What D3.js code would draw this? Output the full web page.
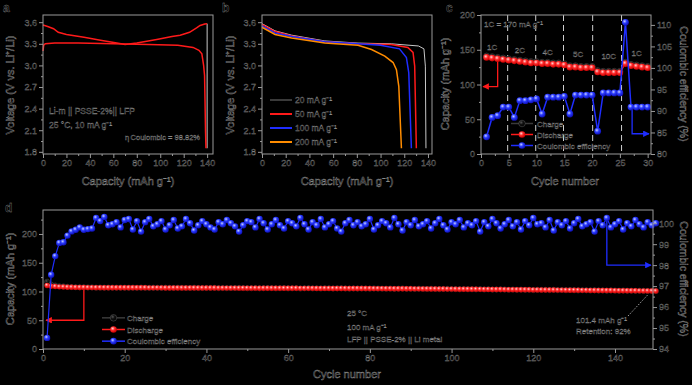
<!DOCTYPE html>
<html><head><meta charset="utf-8">
<script src="https://cdn.jsdelivr.net/npm/d3@7"></script>
<style>
html,body{margin:0;padding:0;background:#000;}
svg{display:block;}
text{font-family:"Liberation Sans",Arial,sans-serif;}
</style></head><body>
<svg id="chart" width="692" height="385"></svg>
<script>
// ================= DATA =================
// Panel a : charge / discharge profile
const aChargeCap = [0,4,9,13,20,35,49,63,70,80,97,110,117,125,131,134,138,140];
const aChargeV   = [3.56,3.54,3.51,3.46,3.43,3.39,3.35,3.31,3.29,3.31,3.36,3.40,3.42,3.46,3.52,3.555,3.575,3.58];
const aDischCap  = [0,0.6,2,10,30,60,90,115,128,133,135.5,137,137.8,138.2,138.6,139];
const aDischV    = [3.20,3.28,3.30,3.31,3.31,3.30,3.29,3.28,3.25,3.21,3.16,3.00,2.86,2.5,2.1,1.85];
const aCutCap    = [140,140];
const aCutV      = [3.58,1.85];
const aTexts     = ["Li-m || PSSE-2%|| LFP","25 °C, 10 mA g⁻¹","η\u2009Coulombic = 98.82%"];

// Panel b : rate discharge curves
const bLabels = ["20 mA g⁻¹","50 mA g⁻¹","100 mA g⁻¹","200 mA g⁻¹"];
const b20Cap  = [0,11,25,53,81,109,132,136.6,137.8,138.3];
const b20V    = [3.58,3.48,3.42,3.34,3.31,3.30,3.27,3.23,2.99,1.85];
const b50Cap  = [0,11,25,53,81,109,123,127.4,128.8,130.2];
const b50V    = [3.57,3.47,3.41,3.33,3.30,3.29,3.25,3.18,2.99,1.85];
const b100Cap = [0,11,25,53,81,100,116,121.8,123.8,126];
const b100V   = [3.55,3.45,3.40,3.33,3.30,3.28,3.23,3.11,2.90,1.85];
const b200Cap = [0,11,25,53,81,92.4,103.6,110.6,113.4,115.4,117.6];
const b200V   = [3.53,3.43,3.38,3.31,3.28,3.22,3.13,3.04,2.94,2.71,1.85];

// Panel c : rate capability
const cCycles    = [1,2,3,4,5,6,7,8,9,10,11,12,13,14,15,16,17,18,19,20,21,22,23,24,25,26,27,28,29,30];
const cDischarge = [139,138,137,136,135, 134,133,132,131,131, 130,130,129,129,128, 125,125,124,124,124, 118,117,117,117,117, 130,127,126,125,124];
const cCharge    = [141,140,139,138,137, 136,135,134,133,133, 132,132,131,131,130, 127,127,126,126,126, 120,119,119,119,119, 132,129,128,127,126];
const cCE        = [84.0,88.5,88.9,90.9,90.9, 88.5,92.4,92.4,92.6,92.8, 89.3,93.2,93.2,93.2,93.4, 89.3,93.7,93.7,93.7,93.7, 85.3,94.2,94.2,94.2,94.2, 110.6,90.9,90.9,90.9,90.9];
const cRateLabels = ["1C","2C","4C","5C","10C","1C"];
const cRateAt     = [2,7,12,17.5,23,28];
const cRateCap    = [150,146,143,139,137,141];
const cSeparators = [4.8,9.85,14.85,20.1,25.3];
const cLegend     = ["Charge","Discharge","Coulombic efficiency"];

// Panel d : long cycling
const dDischarge = [
110.5,109.2,108.6,108.1,107.8,107.5,107.3,107.1,107.0,106.9,
106.8,106.8,106.7,106.7,106.6,106.6,106.6,106.5,106.5,106.5,
106.5,106.4,106.4,106.4,106.4,106.3,106.3,106.3,106.3,106.2,
106.2,106.2,106.2,106.1,106.1,106.1,106.1,106.0,106.0,106.0,
106.0,106.0,105.9,105.9,105.9,105.9,105.9,105.8,105.8,105.8,
105.8,105.8,105.7,105.7,105.7,105.7,105.7,105.6,105.6,105.6,
105.6,105.6,105.5,105.5,105.5,105.5,105.4,105.4,105.4,105.4,
105.3,105.3,105.3,105.3,105.2,105.2,105.2,105.1,105.1,105.1,
105.0,105.0,105.0,104.9,104.9,104.8,104.8,104.8,104.7,104.7,
104.6,104.6,104.5,104.5,104.4,104.4,104.3,104.3,104.2,104.2,
104.1,104.0,104.0,103.9,103.8,103.8,103.7,103.6,103.6,103.5,
103.4,103.4,103.3,103.2,103.2,103.1,103.0,103.0,102.9,102.8,
102.8,102.7,102.6,102.6,102.5,102.4,102.4,102.3,102.2,102.2,
102.1,102.0,102.0,101.9,101.8,101.8,101.7,101.6,101.6,101.5,
101.4,101.4,101.3,101.2,101.2,101.1,101.0,101.0,100.9,100.8];
const dCharge = [
116.9,112.0,110.3,109.1,108.8,108.1,107.7,107.4,107.2,107.2,
107.1,107.1,106.7,106.8,106.6,106.7,106.7,106.6,106.7,106.6,
106.5,106.7,106.5,106.8,106.5,106.3,106.5,106.4,106.3,106.5,
106.3,106.2,106.5,106.3,106.1,106.1,106.5,106.1,106.0,106.1,
106.2,106.3,105.9,106.0,105.8,105.9,106.1,106.2,105.9,105.7,
105.7,106.0,105.5,105.7,106.0,105.8,105.5,105.7,105.9,105.5,
105.6,105.8,105.2,105.6,105.8,105.4,105.5,105.2,105.6,105.5,
105.2,105.6,105.7,105.3,105.0,105.3,105.1,105.3,105.2,104.9,
105.3,105.1,104.9,104.9,105.1,104.5,104.9,105.2,104.6,104.8,
104.4,104.8,104.6,104.4,104.7,104.4,104.1,104.4,104.5,104.1,
104.2,103.8,104.2,103.9,103.9,103.7,104.1,103.5,103.8,103.3,
103.4,103.7,103.4,103.0,103.4,103.0,103.3,102.9,103.0,102.5,
102.9,102.7,102.8,102.4,102.9,102.3,102.5,102.2,102.5,102.2,
101.9,102.2,102.1,101.8,102.2,101.7,101.8,101.3,101.8,101.6,
101.3,101.7,101.3,101.4,101.0,101.2,101.2,100.9,101.0,100.8];
const dCE = [
94.53,97.54,98.43,99.06,99.09,99.41,99.61,99.69,99.80,99.69,
99.72,99.75,100.25,100.10,100.30,99.90,99.95,100.05,99.80,100.15,
100.20,99.70,100.10,99.60,100.05,100.20,99.85,99.95,100.10,99.70,
99.90,100.15,99.75,99.85,100.20,100.00,99.65,99.90,100.10,99.95,
99.80,99.70,100.05,99.95,100.15,100.00,99.85,99.60,99.90,100.10,
100.05,99.80,100.20,100.00,99.70,99.95,100.15,99.90,99.75,100.10,
100.00,99.85,100.25,99.95,99.70,100.05,99.90,100.20,99.80,99.95,
100.10,99.75,99.60,100.00,100.15,99.90,100.05,99.85,99.95,100.20,
99.70,99.90,100.10,100.00,99.80,100.25,99.95,99.65,100.05,99.90,
100.15,99.85,99.95,100.10,99.75,100.00,100.20,99.90,99.70,100.05,
99.95,100.15,99.80,100.00,99.90,100.10,99.60,100.05,99.85,100.20,
100.00,99.75,99.95,100.15,99.85,100.05,99.70,100.10,99.90,100.25,
99.95,100.00,99.80,100.15,99.65,100.05,99.90,100.10,99.75,100.00,
100.20,99.85,99.95,100.05,99.60,100.10,99.90,100.25,99.80,99.95,
100.10,99.70,100.00,99.85,100.15,99.95,99.80,100.05,99.90,100.00];
const dCycles = d3.range(1, dCE.length + 1);
const dTexts  = ["25 °C","100 mA g⁻¹","LFP || PSSE-2% || Li metal"];
const dNote   = ["101.4 mAh g⁻¹","Retention: 92%"];

// ================= DRAW =================
const svg = d3.select("#chart");
const AX = "#9a9a9a";           // frame / tick colour (as rendered)
const TXT_STROKE = "#8a8a8a";
const RED = "#ff1a1a", BLUE = "#1f2dff", ORANGE = "#ff8c00", BLK = "#c8c8c8";

const defs = svg.append("defs");
function grad(id, c0, c1, c2){
  const g = defs.append("radialGradient").attr("id", id).attr("cx","38%").attr("cy","35%").attr("r","65%");
  g.append("stop").attr("offset","0%").attr("stop-color",c0);
  g.append("stop").attr("offset","45%").attr("stop-color",c1);
  g.append("stop").attr("offset","100%").attr("stop-color",c2);
}
grad("gRed","#ffd6d6","#ff2a2a","#c80000");
grad("gBlue","#c9d0ff","#2a3cff","#0f10b8");
grad("gBlk","#555","#111","#000");
function arrowDef(id, color){
  defs.append("marker").attr("id", id).attr("viewBox","0 0 10 10").attr("refX",9).attr("refY",5)
    .attr("markerWidth",6).attr("markerHeight",5).attr("orient","auto-start-reverse")
    .append("path").attr("d","M0,0L10,5L0,10Z").attr("fill",color);
}
arrowDef("arR", RED); arrowDef("arB", BLUE);

function label(g, x, y, s, o = {}){
  const t = g.append("text").attr("x", x).attr("y", y).text(s)
    .attr("font-size", o.size || 9).attr("fill", "#000")
    .attr("stroke", TXT_STROKE).attr("stroke-width", o.sw || 0.35)
    .attr("text-anchor", o.anchor || "start");
  if (o.weight) t.attr("font-weight", o.weight);
  if (o.rotate) t.attr("transform", `rotate(${o.rotate},${x},${y})`);
  return t;
}

function styleAxis(sel){
  sel.select(".domain").remove();
  sel.selectAll("line").attr("stroke", AX).attr("stroke-width", 1);
  sel.selectAll("text").attr("font-size", 9).attr("fill", "#000")
     .attr("stroke", TXT_STROKE).attr("stroke-width", 0.35)
     .attr("font-family", "'Liberation Sans',Arial,sans-serif");
}
function axis(g, scale, side, pos, majors, minors, fmt){
  const mk = side === "bottom" ? d3.axisBottom : side === "left" ? d3.axisLeft : d3.axisRight;
  const tr = side === "bottom" ? `translate(0,${pos})` : `translate(${pos},0)`;
  g.append("g").attr("transform", tr)
    .call(mk(scale).tickValues(minors).tickSize(2).tickFormat(""))
    .call(styleAxis);
  g.append("g").attr("transform", tr)
    .call(mk(scale).tickValues(majors).tickSize(4).tickPadding(2).tickFormat(fmt))
    .call(styleAxis);
}
function frame(g, x0, x1, y0, y1){
  g.append("rect").attr("x", x0).attr("y", y0).attr("width", x1 - x0).attr("height", y1 - y0)
    .attr("fill", "none").attr("stroke", AX).attr("stroke-width", 1);
}
function pairs(xs, ys){ return xs.map((x, i) => [x, ys[i]]); }

const vMaj = [1.8,2.1,2.4,2.7,3.0,3.3,3.6];
const vMin = [1.95,2.25,2.55,2.85,3.15,3.45];
const capMaj = [0,20,40,60,80,100,120,140];
const capMin = [10,30,50,70,90,110,130];
const f1 = d3.format(".1f");

// ---------- Panel a ----------
{
  const g = svg.append("g");
  const x = d3.scaleLinear().domain([0,145]).range([43,213]);
  const y = d3.scaleLinear().domain([1.77,3.7]).range([154,15]);
  const ln = d3.line().x(d => x(d[0])).y(d => y(d[1]));
  g.append("path").attr("d", ln(pairs(aCutCap, aCutV))).attr("fill","none").attr("stroke", BLK).attr("stroke-width",1);
  g.append("path").attr("d", ln(pairs(aChargeCap, aChargeV))).attr("fill","none").attr("stroke", RED).attr("stroke-width",1.5);
  g.append("path").attr("d", ln(pairs(aDischCap, aDischV))).attr("fill","none").attr("stroke", RED).attr("stroke-width",1.5);
  frame(g, 43, 213, 15, 154);
  axis(g, x, "bottom", 154, capMaj, capMin, d3.format("d"));
  axis(g, y, "left", 43, vMaj, vMin, f1);
  label(g, 49, 114, aTexts[0], {size: 8.5});
  label(g, 49, 128, aTexts[1], {size: 8.5});
  label(g, 200, 140, aTexts[2], {size: 7.5, anchor: "end"});
  label(g, 128, 185, "Capacity (mAh g⁻¹)", {size: 11, anchor: "middle", sw: 0.45});
  label(g, 14, 85, "Voltage (V vs. Li⁺/Li)", {size: 11, anchor: "middle", rotate: -90, sw: 0.45});
  label(g, 3, 12, "a", {size: 12, weight: "bold"});
}

// ---------- Panel b ----------
{
  const g = svg.append("g");
  const x = d3.scaleLinear().domain([0,143.4]).range([262,432]);
  const y = d3.scaleLinear().domain([1.77,3.7]).range([154,15]);
  const ln = d3.line().x(d => x(d[0])).y(d => y(d[1]));
  const series = [
    {c: b20Cap, v: b20V, col: BLK, lg: "#3a3a3a"},
    {c: b50Cap, v: b50V, col: RED, lg: RED},
    {c: b100Cap, v: b100V, col: BLUE, lg: BLUE},
    {c: b200Cap, v: b200V, col: ORANGE, lg: ORANGE}
  ];
  series.forEach(s => g.append("path").attr("d", ln(pairs(s.c, s.v))).attr("fill","none")
    .attr("stroke", s.col).attr("stroke-width", s.col === BLK ? 1 : 1.5));
  frame(g, 262, 432, 15, 154);
  axis(g, x, "bottom", 154, capMaj, capMin, d3.format("d"));
  axis(g, y, "left", 262, vMaj, vMin, f1);
  const lgY = d3.scaleBand().domain(bLabels).range([93,149]);
  bLabels.forEach((t, i) => {
    const yy = lgY(t) + lgY.bandwidth() / 2;
    g.append("line").attr("x1", 270).attr("x2", 292).attr("y1", yy).attr("y2", yy)
      .attr("stroke", series[i].lg).attr("stroke-width", 2);
    label(g, 295, yy + 3, t, {size: 8.5});
  });
  label(g, 347, 185, "Capacity (mAh g⁻¹)", {size: 11, anchor: "middle", sw: 0.45});
  label(g, 234, 85, "Voltage (V vs. Li⁺/Li)", {size: 11, anchor: "middle", rotate: -90, sw: 0.45});
  label(g, 222, 12, "b", {size: 12, weight: "bold"});
}

// ---------- Panel c ----------
{
  const g = svg.append("g");
  const x0 = 481, x1 = 651, y0 = 15, y1 = 154;
  const x = d3.scaleLinear().domain([0,30.6]).range([x0,x1]);
  const yL = d3.scaleLinear().domain([0,200]).range([y1,y0]);
  const yR = d3.scaleLinear().domain([80,112.3]).range([y1,y0]);
  cSeparators.forEach(s => g.append("line").attr("x1", x(s)).attr("x2", x(s)).attr("y1", y0).attr("y2", y1)
    .attr("stroke", "#d0d0d0").attr("stroke-width", 1).attr("stroke-dasharray", "6,4"));
  label(g, 484, 27, "1C = 170 mA g⁻¹", {size: 8});
  cRateLabels.forEach((t, i) => label(g, x(cRateAt[i]), yL(cRateCap[i]), t, {size: 8, anchor: "middle"}));
  g.append("path").attr("d", `M${x(3)},${yL(cDischarge[2])}V${yL(97)}H${x0 + 2}`)
    .attr("fill","none").attr("stroke", RED).attr("stroke-width", 1.3).attr("marker-end","url(#arR)");
  g.append("path").attr("d", `M${x(27.2)},${yR(cCE[26])}V${yR(84.7)}H${x1 - 2}`)
    .attr("fill","none").attr("stroke", BLUE).attr("stroke-width", 1.3).attr("marker-end","url(#arB)");
  const lnL = d3.line().x((d, i) => x(cCycles[i])).y(d => yL(d));
  const lnR = d3.line().x((d, i) => x(cCycles[i])).y(d => yR(d));
  g.append("path").attr("d", lnL(cCharge)).attr("fill","none").attr("stroke","#222").attr("stroke-width",1);
  g.selectAll(".cc").data(cCharge).join("circle").attr("cx",(d,i)=>x(cCycles[i])).attr("cy",d=>yL(d)).attr("r",3)
    .attr("fill","url(#gBlk)").attr("stroke","#666").attr("stroke-width",0.4);
  g.append("path").attr("d", lnL(cDischarge)).attr("fill","none").attr("stroke",RED).attr("stroke-width",1.2);
  g.selectAll(".cd").data(cDischarge).join("circle").attr("cx",(d,i)=>x(cCycles[i])).attr("cy",d=>yL(d)).attr("r",3.3)
    .attr("fill","url(#gRed)");
  g.append("path").attr("d", lnR(cCE)).attr("fill","none").attr("stroke",BLUE).attr("stroke-width",1.5);
  g.selectAll(".ce").data(cCE).join("circle").attr("cx",(d,i)=>x(cCycles[i])).attr("cy",d=>yR(d)).attr("r",3.4)
    .attr("fill","url(#gBlue)");
  frame(g, x0, x1, y0, y1);
  axis(g, x, "bottom", y1, [0,5,10,15,20,25,30], [2.5,7.5,12.5,17.5,22.5,27.5], d3.format("d"));
  axis(g, yL, "left", x0, [0,50,100,150,200], [25,75,125,175], d3.format("d"));
  axis(g, yR, "right", x1, [80,85,90,95,100,105,110], [82.5,87.5,92.5,97.5,102.5,107.5], d3.format("d"));
  const lc = ["#3a3a3a", RED, BLUE], lf = ["url(#gBlk)","url(#gRed)","url(#gBlue)"];
  const lgY = d3.scaleBand().domain(cLegend).range([118,151]);
  cLegend.forEach((t, i) => {
    const yy = lgY(t) + lgY.bandwidth() / 2;
    g.append("line").attr("x1",511).attr("x2",533).attr("y1",yy).attr("y2",yy).attr("stroke",lc[i]).attr("stroke-width",1.5);
    g.append("circle").attr("cx",522).attr("cy",yy).attr("r",3.3).attr("fill",lf[i]).attr("stroke", i===0?"#777":"none").attr("stroke-width",0.4);
    label(g, 537, yy + 3, t, {size: 8});
  });
  label(g, 565, 185, "Cycle number", {size: 11, anchor: "middle", sw: 0.45});
  label(g, 449, 84, "Capacity (mAh g⁻¹)", {size: 11, anchor: "middle", rotate: -90, sw: 0.45});
  label(g, 680, 84, "Coulombic efficiency (%)", {size: 10.5, anchor: "middle", rotate: 90, sw: 0.45});
  label(g, 446, 12, "c", {size: 12, weight: "bold"});
}

// ---------- Panel d ----------
{
  const g = svg.append("g");
  const x0 = 43, x1 = 653, y0 = 210, y1 = 349;
  const x = d3.scaleLinear().domain([0,149.3]).range([x0,x1]);
  const yL = d3.scaleLinear().domain([0,241.7]).range([y1,y0]);
  const yR = d3.scaleLinear().domain([94,100.63]).range([y1,y0]);
  const lnL = d3.line().x((d, i) => x(dCycles[i])).y(d => yL(d));
  const lnR = d3.line().x((d, i) => x(dCycles[i])).y(d => yR(d));
  g.append("path").attr("d", `M${x(10)},${yL(dDischarge[9])}V${yL(50)}H${x0 + 3}`)
    .attr("fill","none").attr("stroke", RED).attr("stroke-width", 1.3).attr("marker-end","url(#arR)");
  g.append("path").attr("d", `M${x(138)},${yR(dCE[137])}V${yR(98)}H${x1 - 2}`)
    .attr("fill","none").attr("stroke", BLUE).attr("stroke-width", 1.3).attr("marker-end","url(#arB)");
  g.append("path").attr("d", lnL(dCharge)).attr("fill","none").attr("stroke","#222").attr("stroke-width",1);
  g.selectAll(".dc").data(dCharge).join("circle").attr("cx",(d,i)=>x(dCycles[i])).attr("cy",d=>yL(d)).attr("r",2.6)
    .attr("fill","url(#gBlk)").attr("stroke","#666").attr("stroke-width",0.4);
  g.append("path").attr("d", lnL(dDischarge)).attr("fill","none").attr("stroke",RED).attr("stroke-width",1.2);
  g.selectAll(".dd").data(dDischarge).join("circle").attr("cx",(d,i)=>x(dCycles[i])).attr("cy",d=>yL(d)).attr("r",2.7)
    .attr("fill","url(#gRed)");
  g.append("path").attr("d", lnR(dCE)).attr("fill","none").attr("stroke",BLUE).attr("stroke-width",1.2);
  g.selectAll(".de").data(dCE).join("circle").attr("cx",(d,i)=>x(dCycles[i])).attr("cy",d=>yR(d)).attr("r",3.2)
    .attr("fill","url(#gBlue)");
  frame(g, x0, x1, y0, y1);
  axis(g, x, "bottom", y1, [0,20,40,60,80,100,120,140], [10,30,50,70,90,110,130], d3.format("d"));
  axis(g, yL, "left", x0, [0,50,100,150,200], [25,75,125,175,225], d3.format("d"));
  axis(g, yR, "right", x1, [94,95,96,97,98,99,100], [94.5,95.5,96.5,97.5,98.5,99.5], d3.format("d"));
  const lc = ["#3a3a3a", RED, BLUE], lf = ["url(#gBlk)","url(#gRed)","url(#gBlue)"];
  const lgY = d3.scaleBand().domain(cLegend).range([312,347]);
  cLegend.forEach((t, i) => {
    const yy = lgY(t) + lgY.bandwidth() / 2;
    g.append("line").attr("x1",102).attr("x2",125).attr("y1",yy).attr("y2",yy).attr("stroke",lc[i]).attr("stroke-width",1.5);
    g.append("circle").attr("cx",113.5).attr("cy",yy).attr("r",3.3).attr("fill",lf[i]).attr("stroke", i===0?"#777":"none").attr("stroke-width",0.4);
    label(g, 127, yy + 3, t, {size: 8});
  });
  label(g, 347, 316, dTexts[0], {size: 8});
  label(g, 347, 330, dTexts[1], {size: 8});
  label(g, 347, 342, dTexts[2], {size: 8});
  label(g, 576, 323, dNote[0], {size: 8});
  label(g, 576, 334, dNote[1], {size: 8});
  g.append("line").attr("x1", 628).attr("y1", 316).attr("x2", x(148)).attr("y2", yL(dDischarge[147]) + 4)
    .attr("stroke", "#c8c8c8").attr("stroke-width", 0.8).attr("stroke-dasharray", "1.5,1.5");
  label(g, 347, 378, "Cycle number", {size: 11, anchor: "middle", sw: 0.45});
  label(g, 14, 279, "Capacity (mAh g⁻¹)", {size: 11, anchor: "middle", rotate: -90, sw: 0.45});
  label(g, 680, 279, "Coulombic efficiency (%)", {size: 10.5, anchor: "middle", rotate: 90, sw: 0.45});
  label(g, 5, 212, "d", {size: 12, weight: "bold"});
}
</script>
</body></html>
